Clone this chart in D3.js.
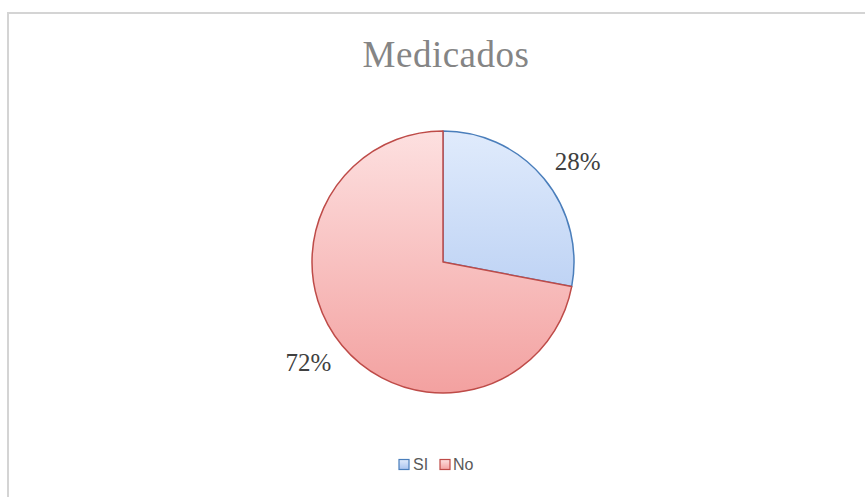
<!DOCTYPE html>
<html><head><meta charset="utf-8">
<script src="https://cdn.jsdelivr.net/npm/d3@7"></script>
<style>body{margin:0;background:#fff}</style>
</head><body>
<svg id="c" width="865" height="497"></svg>
<script>
const title = "Medicados";
const categories = ["SI", "No"];
const values = [28, 72];
const labels = ["28%", "72%"];

const svg = d3.select("#c");
const W = 865, H = 497;
svg.append("rect").attr("width", W).attr("height", H).attr("fill", "#fff");
svg.append("path").attr("d", `M8,${H} L8,13 L${W},13`).attr("fill", "none").attr("stroke", "#d4d4d4").attr("stroke-width", 2);

svg.append("text").attr("x", 446).attr("y", 67).attr("text-anchor", "middle")
  .attr("font-family", "Liberation Serif, Times New Roman, serif").attr("font-size", 37)
  .attr("letter-spacing", 0.5)
  .attr("fill", "#858585").text(title);

const defs = svg.append("defs");
const fills = [["#e0ebfc", "#a8c3ef"], ["#fde0e0", "#f3a1a0"]];
const strokes = ["#4a7ebb", "#be4b48"];
fills.forEach((f, i) => {
  const g = defs.append("linearGradient").attr("id", "g" + i)
    .attr("gradientUnits", "userSpaceOnUse").attr("x1", 0).attr("y1", -131).attr("x2", 0).attr("y2", 131);
  g.append("stop").attr("offset", "0").attr("stop-color", f[0]);
  g.append("stop").attr("offset", "1").attr("stop-color", f[1]);
});

const cx = 443, cy = 262, r = 131;
const pie = d3.pie().sort(null).value(d => d)(values);
const arc = d3.arc().innerRadius(0).outerRadius(r);
const g = svg.append("g").attr("transform", `translate(${cx},${cy})`);
g.selectAll("path").data(pie).join("path")
  .attr("d", arc).attr("fill", (d, i) => `url(#g${i})`)
  .attr("stroke", (d, i) => strokes[i]).attr("stroke-width", 1.5).attr("stroke-linejoin", "round");

const labR = r + 37, shift = 0.05;
g.selectAll("text.lab").data(pie).join("text").attr("class", "lab")
  .attr("transform", d => {
    const a = (d.startAngle + d.endAngle) / 2 + shift;
    return `translate(${labR * Math.sin(a)},${-labR * Math.cos(a)})`;
  })
  .attr("text-anchor", "middle").attr("dy", "0.33em")
  .attr("font-family", "Liberation Serif, Times New Roman, serif").attr("font-size", 25)
  .attr("fill", "#404040").text((d, i) => labels[i]);

const legX = [399, 440];
const textX = [413, 453];
const leg = svg.append("g");
categories.forEach((c, i) => {
  const lg = defs.append("linearGradient").attr("id", "lg" + i).attr("x1", 0).attr("y1", 0).attr("x2", 0).attr("y2", 1);
  lg.append("stop").attr("offset", "0").attr("stop-color", fills[i][0]);
  lg.append("stop").attr("offset", "1").attr("stop-color", fills[i][1]);
  leg.append("rect").attr("x", legX[i]).attr("y", 459.5).attr("width", 10).attr("height", 10)
    .attr("fill", `url(#lg${i})`).attr("stroke", strokes[i]).attr("stroke-width", 1.2);
  leg.append("text").attr("x", textX[i]).attr("y", 470)
    .attr("font-family", "Liberation Sans, Arial, sans-serif").attr("font-size", 16)
    .attr("fill", "#595959").text(c);
});
</script>
</body></html>
